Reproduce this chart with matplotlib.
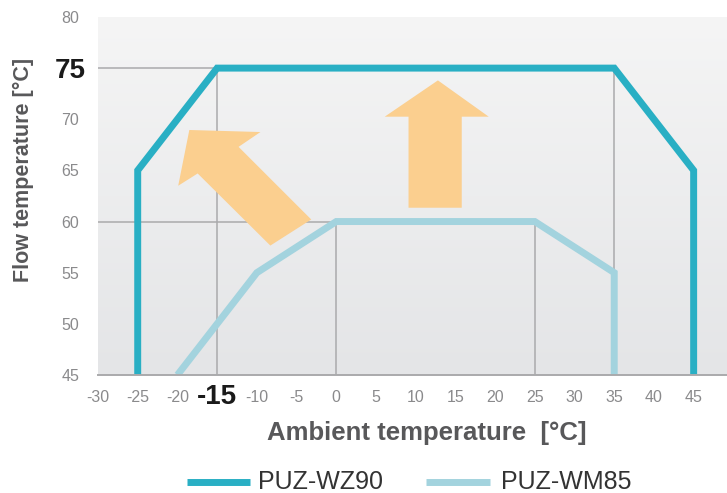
import numpy as np
import matplotlib
matplotlib.use("Agg")
import matplotlib.pyplot as plt
from matplotlib.colors import LinearSegmentedColormap
from matplotlib.patches import Polygon
from matplotlib.lines import Line2D

plt.rcParams['font.family'] = ['Liberation Sans', 'DejaVu Sans']

# operating envelopes (ambient temp, flow temp)
WZ90_X = [-25, -25, -15, 35, 45, 45]
WZ90_Y = [45, 65, 75, 75, 65, 45]
WM85_X = [-20, -10, 0, 25, 35, 35]
WM85_Y = [45, 55, 60, 60, 55, 45]

X_TICKS = list(range(-30, 50, 5))
Y_TICKS = list(range(45, 85, 5))
BOLD_X = -15
BOLD_Y = 75

# drop lines to the corner points
H_GUIDES = [(75, -15), (60, 0)]           # (y, x end)
V_GUIDES = [(-15, 75), (0, 60), (25, 60), (35, 75)]  # (x, y end)

# arrow outlines in data units
ARROW_DIAG = [(-18.5, 68.95), (-9.55, 68.75), (-12.3, 67.3), (-3.15, 60.2),
              (-8.3, 57.65), (-17.45, 64.7), (-19.9, 63.5)]
ARROW_UP = [(9.1, 61.35), (15.8, 61.35), (15.8, 70.25), (19.2, 70.25),
            (12.8, 73.8), (6.1, 70.25), (9.1, 70.25)]

TEAL = "#29afc4"
LIGHT = "#a3d3de"
ORANGE = "#fbcf8f"
GRID = "#aaaaac"

XMIN, XMAX = -30, 49.2
YMIN, YMAX = 45, 80

fig = plt.figure(figsize=(7.27, 4.93), dpi=100)
ax = fig.add_axes([0.1348, 0.2394, 0.8652, 0.7262])

bg = LinearSegmentedColormap.from_list("bg", ["#e4e5e7", "#f5f5f5"])
ax.imshow(np.linspace(0, 1, 256).reshape(-1, 1), extent=[XMIN, XMAX, YMIN, YMAX],
          origin="lower", aspect="auto", cmap=bg, zorder=0)

for y, xe in H_GUIDES:
    ax.plot([XMIN, xe], [y, y], color=GRID, lw=1.1, zorder=1)
for x, ye in V_GUIDES:
    ax.plot([x, x], [YMIN, ye], color=GRID, lw=1.1, zorder=1)

ax.add_patch(Polygon(ARROW_DIAG, closed=True, facecolor=ORANGE, edgecolor="none", zorder=2))
ax.add_patch(Polygon(ARROW_UP, closed=True, facecolor=ORANGE, edgecolor="none", zorder=2))

ax.plot(WM85_X, WM85_Y, color=LIGHT, lw=5, solid_joinstyle="miter", solid_capstyle="butt", zorder=3)
ax.plot(WZ90_X, WZ90_Y, color=TEAL, lw=5, solid_joinstyle="miter", solid_capstyle="butt", zorder=4)

ax.set_xlim(XMIN, XMAX)
ax.set_ylim(YMIN, YMAX)

for s in ["top", "right", "left"]:
    ax.spines[s].set_visible(False)
ax.spines["bottom"].set_color(GRID)
ax.spines["bottom"].set_linewidth(1.4)
ax.spines["bottom"].set_zorder(5)

ax.set_xticks(X_TICKS)
ax.set_xticklabels([str(v) for v in X_TICKS])
ax.set_yticks(Y_TICKS)
ax.set_yticklabels([str(v) for v in Y_TICKS])
ax.tick_params(axis="x", length=0, pad=16)
ax.tick_params(axis="y", length=0, pad=20)

for v, lab in zip(X_TICKS, ax.get_xticklabels()):
    lab.set_verticalalignment("center")
    if v == BOLD_X:
        lab.set_fontsize(20)
        lab.set_fontweight("bold")
        lab.set_color("#1a1a1a")
    else:
        lab.set_fontsize(11.5)
        lab.set_color("#8a8a8c")
for v, lab in zip(Y_TICKS, ax.get_yticklabels()):
    lab.set_horizontalalignment("center")
    if v == BOLD_Y:
        lab.set_fontsize(20)
        lab.set_fontweight("bold")
        lab.set_color("#1a1a1a")
    else:
        lab.set_fontsize(11.5)
        lab.set_color("#8a8a8c")

fig.text(0.587, 0.1217, "Ambient temperature  [°C]", fontsize=18.5, fontweight="bold",
         color="#58585a", ha="center", va="center")
fig.text(0.0316, 0.655, "Flow temperature [°C]", fontsize=15.5, fontweight="bold",
         color="#58585a", ha="center", va="center", rotation=90)

# legend drawn by hand
ly = 1 - 482 / 493
fig.add_artist(Line2D([187 / 727, 250 / 727], [ly, ly], color=TEAL, lw=5, solid_capstyle="butt"))
fig.text(258 / 727, ly, "PUZ-WZ90", fontsize=18, color="#333333", va="center")
fig.add_artist(Line2D([426 / 727, 490 / 727], [ly, ly], color=LIGHT, lw=5, solid_capstyle="butt"))
fig.text(501 / 727, ly, "PUZ-WM85", fontsize=18, color="#333333", va="center")

fig.savefig("out.png", dpi=100)
